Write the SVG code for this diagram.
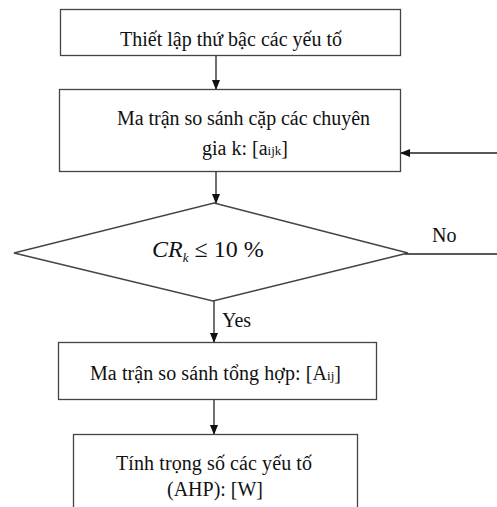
<svg xmlns="http://www.w3.org/2000/svg" width="497" height="507" viewBox="0 0 497 507">
<style>
.box{fill:#fff;stroke:#444;stroke-width:1.3}
.ln{fill:none;stroke:#222;stroke-width:1.3}
text{font-family:"Liberation Serif","Times New Roman",serif;fill:#111;font-size:20px}
text.big{font-size:24px}
.sub{font-size:13px}
</style>
<defs>
<marker id="ah" markerWidth="10" markerHeight="10" refX="9" refY="5" orient="auto" markerUnits="userSpaceOnUse">
<path d="M0,1 L10,5 L0,9 Z" fill="#111"/>
</marker>
</defs>
<rect width="497" height="507" fill="#fff"/>
<g id="connectors">
<line class="ln" x1="216" y1="55" x2="216" y2="89" marker-end="url(#ah)"/>
<line class="ln" x1="497" y1="153" x2="401" y2="153" marker-end="url(#ah)"/>
<line class="ln" x1="216" y1="171" x2="216" y2="203" marker-end="url(#ah)"/>
<line class="ln" x1="405" y1="254" x2="497" y2="254"/>
<line class="ln" x1="214" y1="301" x2="214" y2="342" marker-end="url(#ah)"/>
<line class="ln" x1="214" y1="399" x2="214" y2="434" marker-end="url(#ah)"/>
<text x="432" y="242">No</text>
<text x="222" y="327">Yes</text>
</g>
<g id="n1">
<rect class="box" x="60.5" y="9.5" width="340" height="46"/>
<text x="120" y="46" textLength="222">Thiết  lập thứ bậc các yếu tố</text>
</g>
<g id="n2">
<rect class="box" x="59.5" y="89.5" width="341" height="82"/>
<text x="117" y="125" textLength="253">Ma trận so sánh  cặp các chuyên</text>
<text x="202" y="155" textLength="86">gia  k: [a<tspan class="sub">ijk</tspan>]</text>
</g>
<g id="n3">
<polygon class="box" points="214,203 408,253 213,301 14,253"/>
<text class="big" x="152" y="257"><tspan font-style="italic">CR</tspan><tspan font-style="italic" class="sub" dy="5">k</tspan><tspan dy="-5"> ≤ 10 %</tspan></text>
</g>
<g id="n4">
<rect class="box" x="58.5" y="342.5" width="318" height="57"/>
<text x="90" y="380" textLength="251">Ma trận so sánh  tổng hợp: [A<tspan class="sub">ij</tspan>]</text>
</g>
<g id="n5">
<rect class="box" x="73.5" y="434.5" width="284" height="80"/>
<text x="116" y="470" textLength="196">Tính  trọng  số các yếu tố</text>
<text x="167" y="496" textLength="96">(AHP): [W]</text>
</g>
</svg>
